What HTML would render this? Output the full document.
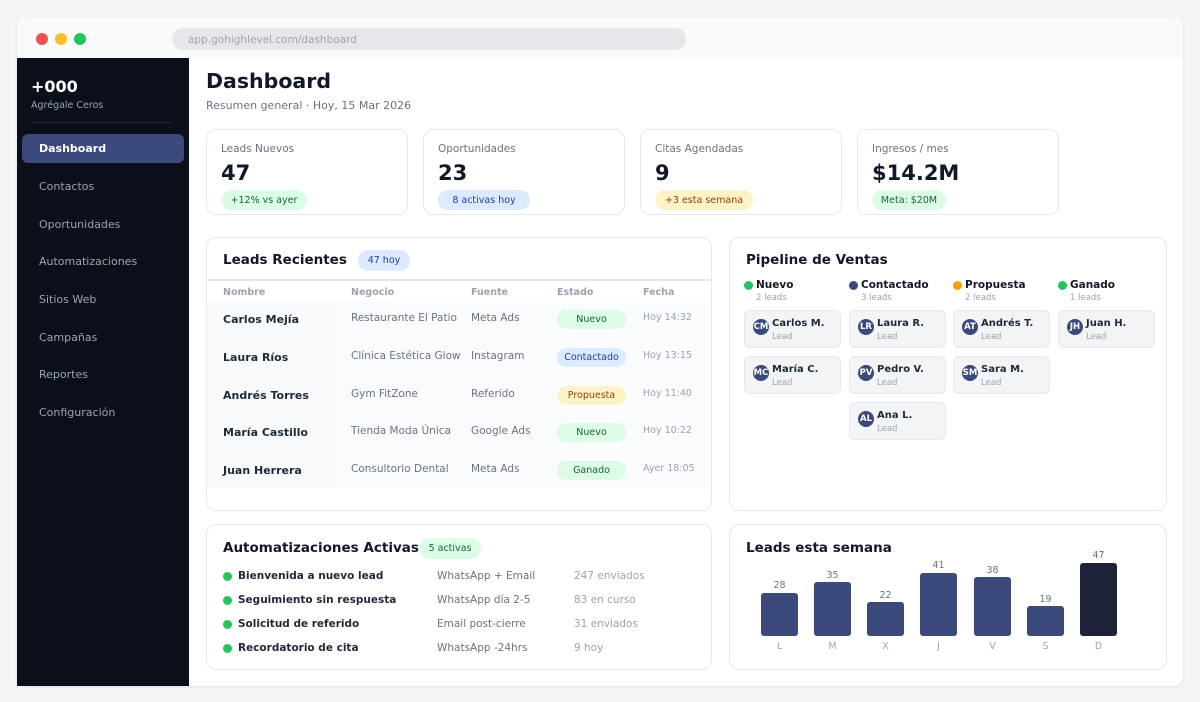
<!DOCTYPE html><html><head><meta charset="utf-8"><style>
*{box-sizing:border-box;margin:0;padding:0}
body{width:1200px;height:702px;background:#f3f4f6;font-family:"DejaVu Sans","Liberation Sans",sans-serif;position:relative;overflow:hidden;color:#111827}
.a{position:absolute;white-space:nowrap}
.card{position:absolute;background:#fff;border:1px solid #e5e7eb;border-radius:10px}
.badge{position:absolute;border-radius:10px;font-size:9.5px;text-align:center}
.nav{position:absolute;left:39px;font-size:11px;color:#9ca3af}
.th{font-size:9.5px;font-weight:bold;color:#9ca3af}
.td{font-size:10.5px;color:#6b7280}
.nm{font-size:11px;font-weight:bold;color:#1f2937}
.pc{position:absolute;width:97px;height:38px;background:#f3f4f6;border:1px solid #e5e7eb;border-radius:6px}
.av{position:absolute;left:8px;top:8px;width:16px;height:16px;border-radius:50%;background:#3b4a7a;color:#fff;font-size:8.5px;font-weight:bold;line-height:16px;text-align:center;overflow:hidden}
.pn{position:absolute;left:27px;top:7px;font-size:10px;font-weight:bold;color:#1f2937}
.pl{position:absolute;left:27px;top:21px;font-size:8.5px;color:#9ca3af}
.bar{position:absolute;width:37px;background:#3b4a7a;border-radius:3px}
.bv{position:absolute;width:37px;text-align:center;font-size:9.5px;color:#6b7280}
.dl{position:absolute;width:37px;text-align:center;font-size:9.5px;color:#9ca3af;top:641px}
.tt{font-size:13.5px;font-weight:bold}
</style></head><body>
<div class="a" style="left:17px;top:17px;width:1166px;height:669px;background:#fff;border-radius:10px;box-shadow:0 1px 3px rgba(0,0,0,.08)"></div>
<div class="a" style="left:17px;top:17px;width:1166px;height:41px;background:#f9fafb;border-radius:10px 10px 0 0"></div>
<div class="a" style="left:36px;top:33px;width:12px;height:12px;border-radius:50%;background:#ef5350"></div>
<div class="a" style="left:55px;top:33px;width:12px;height:12px;border-radius:50%;background:#fbbf24"></div>
<div class="a" style="left:74px;top:33px;width:12px;height:12px;border-radius:50%;background:#22c55e"></div>
<div class="a" style="left:172px;top:28px;width:514px;height:22px;background:#e5e7eb;border-radius:11px;font-size:10.5px;color:#9ca3af;padding-left:16px;line-height:24px">app.gohighlevel.com/dashboard</div>
<div class="a" style="left:17px;top:58px;width:172px;height:628px;background:#0b0f1a"></div>
<div class="a" style="left:31px;top:77px;font-size:16px;font-weight:bold;color:#fff">+000</div>
<div class="a" style="left:31px;top:100px;font-size:9.5px;color:#9ca3af">Agrégale Ceros</div>
<div class="a" style="left:31px;top:122px;width:141px;height:1px;background:#1f2937"></div>
<div class="a" style="left:22px;top:134px;width:162px;height:29px;background:#3b4a7a;border-radius:6px"></div>
<div class="nav" style="top:142px;color:#fff;font-weight:bold">Dashboard</div>
<div class="nav" style="top:180px">Contactos</div>
<div class="nav" style="top:218px">Oportunidades</div>
<div class="nav" style="top:255px">Automatizaciones</div>
<div class="nav" style="top:293px">Sitios Web</div>
<div class="nav" style="top:331px">Campañas</div>
<div class="nav" style="top:368px">Reportes</div>
<div class="nav" style="top:406px">Configuración</div>

<div class="a" style="left:206px;top:69px;font-size:20.5px;font-weight:bold">Dashboard</div>
<div class="a" style="left:206px;top:99px;font-size:11px;color:#6b7280">Resumen general · Hoy, 15 Mar 2026</div>

<div class="card" style="left:206px;top:129px;width:202px;height:86px"></div>
<div class="card" style="left:423px;top:129px;width:202px;height:86px"></div>
<div class="card" style="left:640px;top:129px;width:202px;height:86px"></div>
<div class="card" style="left:857px;top:129px;width:202px;height:86px"></div>
<div class="a" style="left:221px;top:143px;font-size:10.5px;color:#6b7280">Leads Nuevos</div>
<div class="a" style="left:438px;top:143px;font-size:10.5px;color:#6b7280">Oportunidades</div>
<div class="a" style="left:655px;top:143px;font-size:10.5px;color:#6b7280">Citas Agendadas</div>
<div class="a" style="left:872px;top:143px;font-size:10.5px;color:#6b7280">Ingresos / mes</div>
<div class="a" style="left:221px;top:161px;font-size:21px;font-weight:bold">47</div>
<div class="a" style="left:438px;top:161px;font-size:21px;font-weight:bold">23</div>
<div class="a" style="left:655px;top:161px;font-size:21px;font-weight:bold">9</div>
<div class="a" style="left:872px;top:161px;font-size:21px;font-weight:bold">$14.2M</div>
<div class="badge" style="left:221px;top:190px;width:86px;height:20px;line-height:21px;background:#dcfce7;color:#166534">+12% vs ayer</div>
<div class="badge" style="left:438px;top:190px;width:92px;height:20px;line-height:21px;background:#dbeafe;color:#1e40af">8 activas hoy</div>
<div class="badge" style="left:655px;top:190px;width:98px;height:20px;line-height:21px;background:#fef3c7;color:#92400e">+3 esta semana</div>
<div class="badge" style="left:872px;top:190px;width:74px;height:20px;line-height:21px;background:#dcfce7;color:#166534">Meta: $20M</div>

<div class="card" style="left:206px;top:237px;width:506px;height:274px"></div>
<div class="a tt" style="left:223px;top:252px">Leads Recientes</div>
<div class="badge" style="left:358px;top:250px;width:52px;height:21px;line-height:22px;background:#dbeafe;color:#1e40af">47 hoy</div>
<div class="a" style="left:207px;top:279px;width:504px;height:2px;background:#e5e7eb"></div>
<div class="a th" style="left:223px;top:287px">Nombre</div>
<div class="a th" style="left:351px;top:287px">Negocio</div>
<div class="a th" style="left:471px;top:287px">Fuente</div>
<div class="a th" style="left:557px;top:287px">Estado</div>
<div class="a th" style="left:643px;top:287px">Fecha</div>
<div class="a" style="left:207px;top:302px;width:504px;height:186px;background:linear-gradient(90deg,#f8fafc,#fbfcfe)"></div>

<div class="a nm" style="left:223px;top:313px">Carlos Mejía</div><div class="a td" style="left:351px;top:312px">Restaurante El Patio</div><div class="a td" style="left:471px;top:312px">Meta Ads</div><div class="badge" style="left:557px;top:310px;width:69px;height:19px;line-height:20px;background:#dcfce7;color:#166534">Nuevo</div><div class="a" style="left:643px;top:312px;font-size:9.5px;color:#9ca3af">Hoy 14:32</div>
<div class="a nm" style="left:223px;top:351px">Laura Ríos</div><div class="a td" style="left:351px;top:350px">Clínica Estética Glow</div><div class="a td" style="left:471px;top:350px">Instagram</div><div class="badge" style="left:557px;top:348px;width:69px;height:19px;line-height:20px;background:#dbeafe;color:#1e40af">Contactado</div><div class="a" style="left:643px;top:350px;font-size:9.5px;color:#9ca3af">Hoy 13:15</div>
<div class="a nm" style="left:223px;top:389px">Andrés Torres</div><div class="a td" style="left:351px;top:388px">Gym FitZone</div><div class="a td" style="left:471px;top:388px">Referido</div><div class="badge" style="left:557px;top:386px;width:69px;height:19px;line-height:20px;background:#fef3c7;color:#92400e">Propuesta</div><div class="a" style="left:643px;top:388px;font-size:9.5px;color:#9ca3af">Hoy 11:40</div>
<div class="a nm" style="left:223px;top:426px">María Castillo</div><div class="a td" style="left:351px;top:425px">Tienda Moda Única</div><div class="a td" style="left:471px;top:425px">Google Ads</div><div class="badge" style="left:557px;top:423px;width:69px;height:19px;line-height:20px;background:#dcfce7;color:#166534">Nuevo</div><div class="a" style="left:643px;top:425px;font-size:9.5px;color:#9ca3af">Hoy 10:22</div>
<div class="a nm" style="left:223px;top:464px">Juan Herrera</div><div class="a td" style="left:351px;top:463px">Consultorio Dental</div><div class="a td" style="left:471px;top:463px">Meta Ads</div><div class="badge" style="left:557px;top:461px;width:69px;height:19px;line-height:20px;background:#dcfce7;color:#166534">Ganado</div><div class="a" style="left:643px;top:463px;font-size:9.5px;color:#9ca3af">Ayer 18:05</div>

<div class="card" style="left:729px;top:237px;width:438px;height:274px"></div>
<div class="a tt" style="left:746px;top:252px">Pipeline de Ventas</div>
<div class="a" style="left:744px;top:281px;width:9px;height:9px;border-radius:50%;background:#22c55e"></div><div class="a" style="left:756px;top:279px;font-size:10.5px;font-weight:bold">Nuevo</div><div class="a" style="left:756px;top:293px;font-size:8.5px;color:#9ca3af">2 leads</div>
<div class="a" style="left:849px;top:281px;width:9px;height:9px;border-radius:50%;background:#3b4a7a"></div><div class="a" style="left:861px;top:279px;font-size:10.5px;font-weight:bold">Contactado</div><div class="a" style="left:861px;top:293px;font-size:8.5px;color:#9ca3af">3 leads</div>
<div class="a" style="left:953px;top:281px;width:9px;height:9px;border-radius:50%;background:#f59e0b"></div><div class="a" style="left:965px;top:279px;font-size:10.5px;font-weight:bold">Propuesta</div><div class="a" style="left:965px;top:293px;font-size:8.5px;color:#9ca3af">2 leads</div>
<div class="a" style="left:1058px;top:281px;width:9px;height:9px;border-radius:50%;background:#22c55e"></div><div class="a" style="left:1070px;top:279px;font-size:10.5px;font-weight:bold">Ganado</div><div class="a" style="left:1070px;top:293px;font-size:8.5px;color:#9ca3af">1 leads</div>

<div class="pc" style="left:744px;top:310px"><div class="av">CM</div><div class="pn">Carlos M.</div><div class="pl">Lead</div></div>
<div class="pc" style="left:744px;top:356px"><div class="av">MC</div><div class="pn">María C.</div><div class="pl">Lead</div></div>
<div class="pc" style="left:849px;top:310px"><div class="av">LR</div><div class="pn">Laura R.</div><div class="pl">Lead</div></div>
<div class="pc" style="left:849px;top:356px"><div class="av">PV</div><div class="pn">Pedro V.</div><div class="pl">Lead</div></div>
<div class="pc" style="left:849px;top:402px"><div class="av">AL</div><div class="pn">Ana L.</div><div class="pl">Lead</div></div>
<div class="pc" style="left:953px;top:310px"><div class="av">AT</div><div class="pn">Andrés T.</div><div class="pl">Lead</div></div>
<div class="pc" style="left:953px;top:356px"><div class="av">SM</div><div class="pn">Sara M.</div><div class="pl">Lead</div></div>
<div class="pc" style="left:1058px;top:310px"><div class="av">JH</div><div class="pn">Juan H.</div><div class="pl">Lead</div></div>

<div class="card" style="left:206px;top:524px;width:506px;height:146px"></div>
<div class="a tt" style="left:223px;top:540px">Automatizaciones Activas</div>
<div class="badge" style="left:419px;top:538px;width:62px;height:21px;line-height:22px;background:#dcfce7;color:#166534">5 activas</div>
<div class="a" style="left:223px;top:572px;width:9px;height:9px;border-radius:50%;background:#22c55e"></div><div class="a nm" style="left:238px;top:570px;font-size:10.5px">Bienvenida a nuevo lead</div><div class="a td" style="left:437px;top:570px">WhatsApp + Email</div><div class="a td" style="left:574px;top:570px;color:#9ca3af">247 enviados</div>
<div class="a" style="left:223px;top:596px;width:9px;height:9px;border-radius:50%;background:#22c55e"></div><div class="a nm" style="left:238px;top:594px;font-size:10.5px">Seguimiento sin respuesta</div><div class="a td" style="left:437px;top:594px">WhatsApp día 2-5</div><div class="a td" style="left:574px;top:594px;color:#9ca3af">83 en curso</div>
<div class="a" style="left:223px;top:620px;width:9px;height:9px;border-radius:50%;background:#22c55e"></div><div class="a nm" style="left:238px;top:618px;font-size:10.5px">Solicitud de referido</div><div class="a td" style="left:437px;top:618px">Email post-cierre</div><div class="a td" style="left:574px;top:618px;color:#9ca3af">31 enviados</div>
<div class="a" style="left:223px;top:644px;width:9px;height:9px;border-radius:50%;background:#22c55e"></div><div class="a nm" style="left:238px;top:642px;font-size:10.5px">Recordatorio de cita</div><div class="a td" style="left:437px;top:642px">WhatsApp -24hrs</div><div class="a td" style="left:574px;top:642px;color:#9ca3af">9 hoy</div>

<div class="card" style="left:729px;top:524px;width:438px;height:146px"></div>
<div class="a tt" style="left:746px;top:540px">Leads esta semana</div>
<div class="bar" style="left:761px;top:593px;height:43px"></div><div class="bv" style="left:761px;top:580px">28</div><div class="dl" style="left:761px">L</div>
<div class="bar" style="left:814px;top:582px;height:54px"></div><div class="bv" style="left:814px;top:570px">35</div><div class="dl" style="left:814px">M</div>
<div class="bar" style="left:867px;top:602px;height:34px"></div><div class="bv" style="left:867px;top:590px">22</div><div class="dl" style="left:867px">X</div>
<div class="bar" style="left:920px;top:573px;height:63px"></div><div class="bv" style="left:920px;top:560px">41</div><div class="dl" style="left:920px">J</div>
<div class="bar" style="left:974px;top:577px;height:59px"></div><div class="bv" style="left:974px;top:565px">38</div><div class="dl" style="left:974px">V</div>
<div class="bar" style="left:1027px;top:606px;height:30px"></div><div class="bv" style="left:1027px;top:594px">19</div><div class="dl" style="left:1027px">S</div>
<div class="bar" style="left:1080px;top:563px;height:73px;background:#1e2238"></div><div class="bv" style="left:1080px;top:550px">47</div><div class="dl" style="left:1080px">D</div>
</body></html>
